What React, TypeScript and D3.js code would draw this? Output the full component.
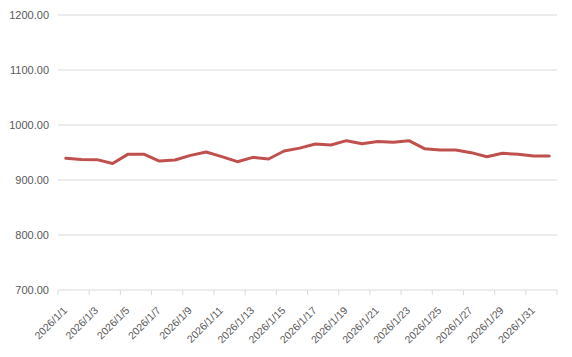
import React from "react";
import * as d3 from "d3";

const categories: string[] = [
  "2026/1/1","2026/1/2","2026/1/3","2026/1/4","2026/1/5","2026/1/6","2026/1/7","2026/1/8",
  "2026/1/9","2026/1/10","2026/1/11","2026/1/12","2026/1/13","2026/1/14","2026/1/15","2026/1/16",
  "2026/1/17","2026/1/18","2026/1/19","2026/1/20","2026/1/21","2026/1/22","2026/1/23","2026/1/24",
  "2026/1/25","2026/1/26","2026/1/27","2026/1/28","2026/1/29","2026/1/30","2026/1/31","2026/2/1",
];
const values: number[] = [
  939.4, 937.2, 937.0, 930.0, 947.0, 947.0, 934.5, 936.4,
  944.8, 950.9, 942.4, 933.3, 941.2, 938.2, 952.7, 958.0,
  965.5, 963.6, 971.5, 966.0, 970.0, 968.5, 971.5, 957.0,
  954.5, 954.5, 949.7, 942.4, 948.5, 946.7, 943.6, 943.6,
];
const yTicks: number[] = [700, 800, 900, 1000, 1100, 1200];

const W = 572, H = 357;
const left = 58, right = 557, top = 15, bottom = 290;

export default function App() {
  const x = d3.scaleBand<string>().domain(categories).range([left, right]).paddingInner(0).paddingOuter(0);
  const y = d3.scaleLinear().domain([700, 1200]).range([bottom, top]);
  const line = d3.line<number>()
    .x((_, i) => (x(categories[i]) as number) + x.bandwidth() / 2)
    .y((d) => y(d));
  const boundaries = d3.range(0, categories.length + 1, 2).map((i) =>
    i < categories.length ? (x(categories[i]) as number) : right
  );
  const font = "'Liberation Sans', Arial, sans-serif";
  return (
    <svg width={W} height={H} style={{ position: "absolute", left: 0, top: 0 }}>
      <rect width={W} height={H} fill="#fff" />
      {yTicks.map((t) => (
        <g key={t}>
          <line x1={left} x2={right} y1={y(t)} y2={y(t)} stroke="#d9d9d9" strokeWidth={1} />
          <text x={49} y={y(t)} dy="0.35em" textAnchor="end" fontFamily={font} fontSize={11} fill="#595959">
            {t.toFixed(2)}
          </text>
        </g>
      ))}
      {boundaries.map((bx, i) => (
        <line key={i} x1={bx} x2={bx} y1={bottom} y2={bottom + 5} stroke="#d9d9d9" strokeWidth={1} />
      ))}
      {categories.map((c, i) =>
        i % 2 === 0 ? (
          <text
            key={c}
            transform={`translate(${(x(c) as number) + x.bandwidth() / 2 + 2},${bottom + 21}) rotate(-45)`}
            textAnchor="end"
            fontFamily={font}
            fontSize={10.5}
            fill="#595959"
          >
            {c}
          </text>
        ) : null
      )}
      <path d={line(values) as string} fill="none" stroke="#C0504D" strokeWidth={3} strokeLinejoin="round" strokeLinecap="round" />
    </svg>
  );
}
